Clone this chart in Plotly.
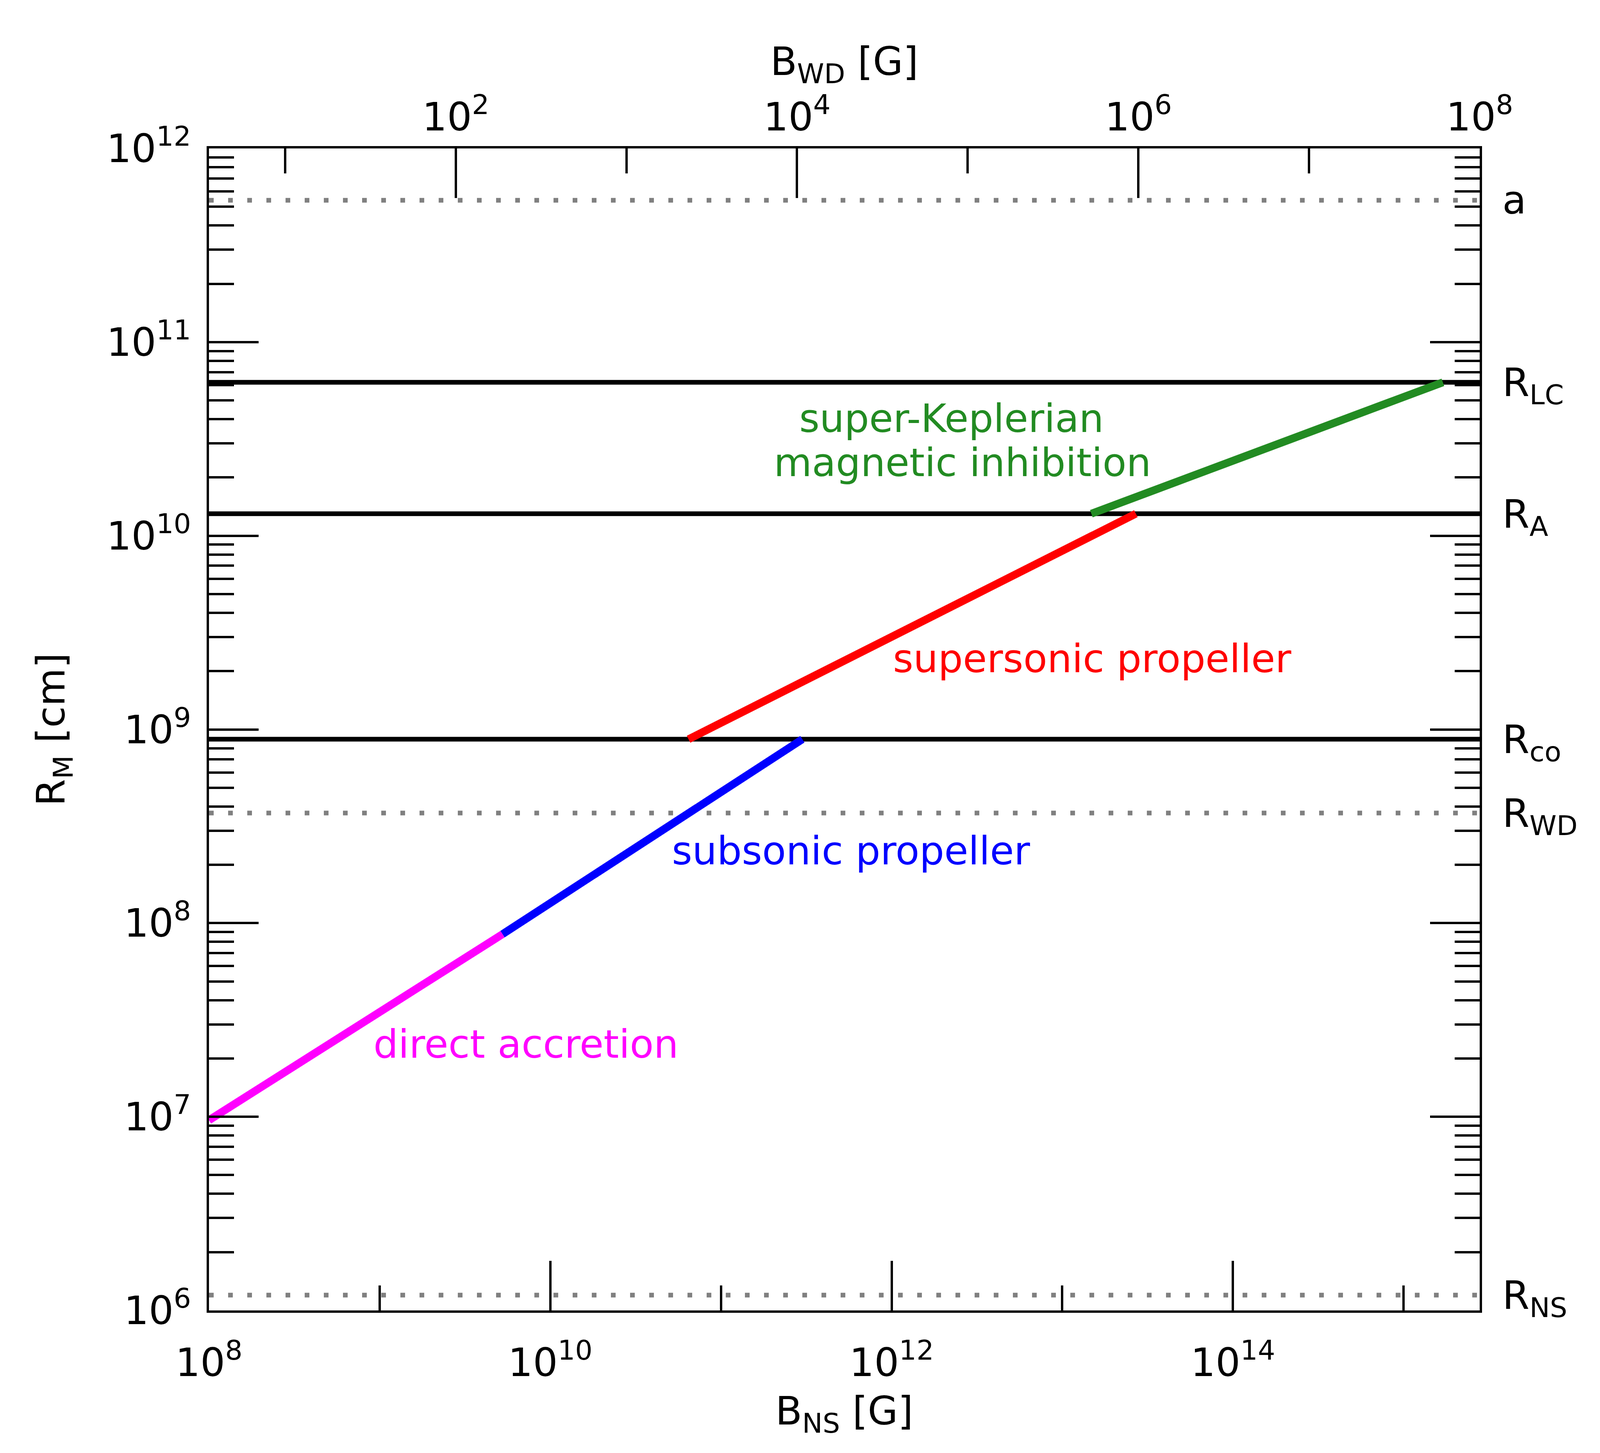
import numpy as np
import plotly.graph_objects as go

# axis ranges (log10)
X_RANGE = [8.0, 15.446]        # B_NS [G]
X2_SHIFT = 7.446               # log B_WD = log B_NS - shift
Y_RANGE = [6.0, 12.0]          # R_M [cm]

# characteristic radii [cm]
level_names = ["a", "R<sub>LC</sub>", "R<sub>A</sub>", "R<sub>co</sub>", "R<sub>WD</sub>", "R<sub>NS</sub>"]
level_vals = [5.4e11, 6.2e10, 1.3e10, 8.9e8, 3.7e8, 1.2e6]
level_dotted = [True, False, False, False, True, True]

# R_M(B) segments per regime
regimes = ["direct accretion", "subsonic propeller", "supersonic propeller", "super-Keplerian"]
regime_colors = ["#ff00ff", "#0000ff", "#ff0000", "#228b22"]
seg_B = [[1.0e8, 5.25e9], [5.25e9, 3.0e11], [6.46e10, 2.7e13], [1.48e13, 1.7e15]]
seg_R = [[9.6e6, 8.77e7], [8.77e7, 8.9e8], [8.9e8, 1.3e10], [1.3e10, 6.2e10]]

# region labels
label_text = ["super-Keplerian", "magnetic inhibition", "supersonic propeller",
              "subsonic propeller", "direct accretion"]
label_B = [2.25e12, 2.6e12, 1.5e13, 5.8e11, 7.2e9]
label_R = [4.03e10, 2.38e10, 2.32e9, 2.36e8, 2.37e7]
label_color = ["#228b22", "#228b22", "#ff0000", "#0000ff", "#ff00ff"]

# ticks
x_major = [8, 10, 12, 14]
x_minor = [9, 11, 13, 15]
x2_major = [2, 4, 6, 8]
x2_minor = [1, 3, 5, 7]
y_major = [6, 7, 8, 9, 10, 11, 12]

FONT = "DejaVu Sans"
FS = 100

fig = go.Figure()

x_lo, x_hi = 10 ** X_RANGE[0], 10 ** X_RANGE[1]
for name, val, dotted in zip(level_names, level_vals, level_dotted):
    if dotted:
        line = dict(color="#808080", width=12, dash="12px,37px")
    else:
        line = dict(color="black", width=12)
    fig.add_trace(go.Scatter(x=[x_lo, x_hi], y=[val, val], mode="lines",
                             line=line, hoverinfo="skip", showlegend=False))

for name, col, bx, ry in zip(regimes, regime_colors, seg_B, seg_R):
    fig.add_trace(go.Scatter(x=bx, y=ry, mode="lines", name=name,
                             line=dict(color=col, width=20), showlegend=False))

# dummy trace so the top axis is drawn
fig.add_trace(go.Scatter(x=[10 ** (X_RANGE[0] - X2_SHIFT)], y=[1e9], xaxis="x2",
                         mode="markers", marker=dict(opacity=0), showlegend=False,
                         hoverinfo="skip"))

y_minor = [k * 10.0 ** n for n in range(6, 12) for k in range(2, 10)]

axis_common = dict(type="log", showgrid=False, zeroline=False, showline=True,
                   linecolor="black", linewidth=6, ticks="inside", tickwidth=6,
                   ticklen=127, tickcolor="black",
                   tickfont=dict(family=FONT, size=FS, color="black"))
minor_common = dict(ticks="inside", ticklen=64, tickwidth=6, tickcolor="black")

fig.update_layout(
    width=4341, height=3720,
    paper_bgcolor="white", plot_bgcolor="white",
    margin=dict(l=527, r=561, t=372, b=373),
    font=dict(family=FONT, size=FS, color="black"),
    xaxis=dict(**axis_common, range=X_RANGE, mirror=True,
               tickvals=[10 ** v for v in x_major],
               ticktext=["10<sup>%d</sup>" % v for v in x_major],
               ticklabelstandoff=42,
               minor=dict(**minor_common, tickvals=[10 ** v for v in x_minor])),
    xaxis2=dict(**axis_common, overlaying="x", side="top",
                range=[X_RANGE[0] - X2_SHIFT, X_RANGE[1] - X2_SHIFT],
                tickvals=[10 ** v for v in x2_major],
                ticktext=["10<sup>%d</sup>" % v for v in x2_major],
                ticklabelstandoff=0,
                minor=dict(**minor_common, tickvals=[10 ** v for v in x2_minor])),
    yaxis=dict(**axis_common, range=Y_RANGE, mirror="ticks",
               tickvals=[10 ** v for v in y_major],
               ticktext=["10<sup>%d</sup>" % v for v in y_major],
               ticklabelstandoff=20,
               minor=dict(**minor_common, tickvals=y_minor)),
)

# labels of the characteristic radii on the right
for name, val in zip(level_names, level_vals):
    fig.add_annotation(x=1.0172, xref="paper", y=np.log10(val), yref="y",
                       text=name, showarrow=False, xanchor="left", yanchor="middle",
                       yshift=-8 if "sub" in name else 0,
                       font=dict(family=FONT, size=FS, color="black"))

for txt, bx, ry, col in zip(label_text, label_B, label_R, label_color):
    fig.add_annotation(x=np.log10(bx), y=np.log10(ry), xref="x", yref="y",
                       text=txt, showarrow=False, xanchor="center", yanchor="middle",
                       font=dict(family=FONT, size=FS, color=col))

# axis titles
fig.add_annotation(x=0.5, y=-0.089, xref="paper", yref="paper", text="B<sub>NS</sub> [G]",
                   showarrow=False, xanchor="center", yanchor="middle")
fig.add_annotation(x=0.5, y=1.0723, xref="paper", yref="paper", text="B<sub>WD</sub> [G]",
                   showarrow=False, xanchor="center", yanchor="middle")
fig.add_annotation(x=-0.1223, y=0.5, xref="paper", yref="paper", text="R<sub>M</sub> [cm]",
                   showarrow=False, textangle=-90, xanchor="center", yanchor="middle")

fig.write_html("out.html")
